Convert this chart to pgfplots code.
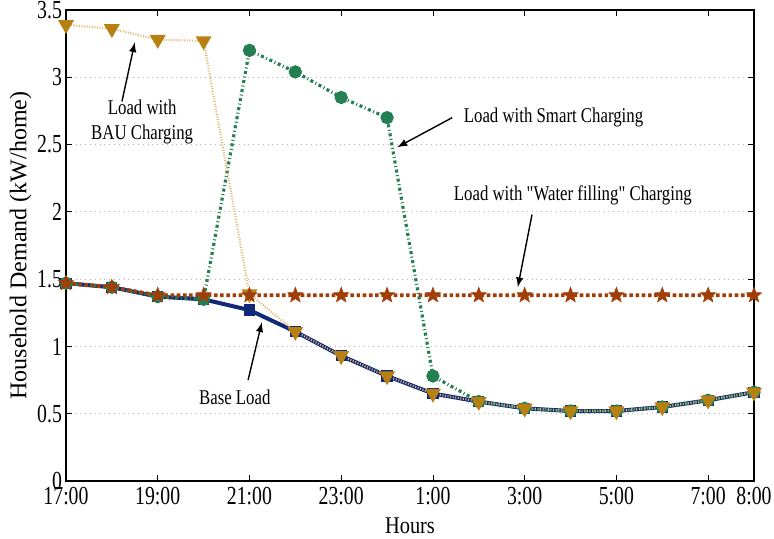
\documentclass[border=0pt]{standalone}
\usepackage{pgfplots}
\pgfplotsset{compat=1.18}
\usepackage{fontspec}
\setmainfont{Liberation Serif}
\newfontfamily\tickfont[FakeStretch=0.76]{Liberation Serif}
\newfontfamily\annfont[FakeStretch=0.8]{Liberation Serif}
\newfontfamily\xlabfont[FakeStretch=0.85]{Liberation Serif}
\definecolor{basec}{RGB}{15,40,120}
\definecolor{smartc}{RGB}{36,128,82}
\definecolor{bauc}{RGB}{184,128,16}
\definecolor{bauline}{RGB}{222,184,115}
\definecolor{waterc}{RGB}{160,62,10}
\pgfdeclareplotmark{fstar}{%
  \pgfpathmoveto{\pgfpointpolar{90}{\pgfplotmarksize}}%
  \pgfpathlineto{\pgfpointpolar{126}{0.42\pgfplotmarksize}}%
  \pgfpathlineto{\pgfpointpolar{162}{\pgfplotmarksize}}%
  \pgfpathlineto{\pgfpointpolar{198}{0.42\pgfplotmarksize}}%
  \pgfpathlineto{\pgfpointpolar{234}{\pgfplotmarksize}}%
  \pgfpathlineto{\pgfpointpolar{270}{0.42\pgfplotmarksize}}%
  \pgfpathlineto{\pgfpointpolar{306}{\pgfplotmarksize}}%
  \pgfpathlineto{\pgfpointpolar{342}{0.42\pgfplotmarksize}}%
  \pgfpathlineto{\pgfpointpolar{18}{\pgfplotmarksize}}%
  \pgfpathlineto{\pgfpointpolar{54}{0.42\pgfplotmarksize}}%
  \pgfpathclose
  \pgfusepathqfillstroke
}
\begin{document}
\begin{tikzpicture}
\begin{axis}[
  scale only axis,
  width=344pt, height=235.5pt,
  xmin=0, xmax=15, ymin=0, ymax=3.5,
  xtick={0,2,4,6,8,10,12,14,15},
  xticklabels={17:00,19:00,21:00,23:00,1:00,3:00,5:00,7:00,8:00},
  ytick={0,0.5,1,1.5,2,2.5,3,3.5},
  yticklabels={0,0.5,1,1.5,2,2.5,3,3.5},
  ymajorgrids,
  grid style={gray!60, dotted, line width=0.6pt},
  tick align=inside,
  major tick length=3pt,
  tick style={black, line width=0.4pt},
  axis line style={black, line width=0.6pt},
  ticklabel style={font=\tickfont\fontsize{13}{14}\selectfont},
  xticklabel style={yshift=0.5pt},
  yticklabel style={xshift=1.5pt},
  xlabel={Hours},
  ylabel={Household Demand (kW/home)},
  xlabel style={font=\xlabfont\fontsize{12}{13}\selectfont, yshift=0.5pt},
  ylabel style={font=\fontsize{12}{13}\selectfont, yshift=-4pt},
  clip=false,
]
% Base load
\addplot[basec, line width=2pt, mark=square*, mark size=1.8pt, mark options={solid}] coordinates {
(0,1.47)(1,1.44)(2,1.37)(3,1.35)(4,1.27)(5,1.11)(6,0.93)(7,0.78)(8,0.65)(9,0.59)(10,0.54)(11,0.52)(12,0.52)(13,0.55)(14,0.60)(15,0.66)};
% Smart charging
\addplot[smartc, line width=1.6pt, dash pattern=on 1.5pt off 1.3pt on 0.5pt off 1.3pt, mark=*, mark size=2.5pt, mark options={solid}] coordinates {
(0,1.47)(1,1.44)(2,1.37)(3,1.35)(4,3.20)(5,3.04)(6,2.85)(7,2.70)(8,0.78)(9,0.59)(10,0.54)(11,0.52)(12,0.52)(13,0.55)(14,0.60)(15,0.66)};
% BAU charging
\addplot[bauline, line width=1.1pt, dash pattern=on 0.5pt off 0.8pt, mark=triangle*, mark size=3.5pt, mark options={solid, rotate=180, fill=bauc, draw=bauc}] coordinates {
(0,3.39)(1,3.36)(2,3.28)(3,3.27)(4,1.39)(5,1.11)(6,0.93)(7,0.78)(8,0.65)(9,0.59)(10,0.54)(11,0.52)(12,0.52)(13,0.55)(14,0.60)(15,0.66)};
% Water filling
\addplot[waterc, line width=1.9pt, dash pattern=on 1.8pt off 1.3pt, mark=fstar, mark size=4pt, mark options={solid, fill=waterc, line width=0.3pt}] coordinates {
(0,1.47)(1,1.44)(2,1.38)(3,1.38)(4,1.38)(5,1.38)(6,1.38)(7,1.38)(8,1.38)(9,1.38)(10,1.38)(11,1.38)(12,1.38)(13,1.38)(14,1.38)(15,1.38)};
% Annotations
\node[align=center, font=\annfont\fontsize{10.5}{12.5}\selectfont] at (axis cs:1.66,2.67) {Load with\\BAU Charging};
\draw[-latex, line width=0.7pt] (axis cs:1.22,2.82) -- (axis cs:1.50,3.26);
\node[font=\annfont\fontsize{10.5}{12}\selectfont] at (axis cs:3.68,0.62) {Base Load};
\draw[-latex, line width=0.7pt] (axis cs:3.97,0.75) -- (axis cs:4.27,1.18);
\node[anchor=west, font=\annfont\fontsize{10.5}{12}\selectfont] at (axis cs:8.52,2.70) {Load with Smart Charging};
\draw[-latex, line width=0.7pt] (axis cs:8.42,2.70) -- (axis cs:7.22,2.48);
\node[font=\annfont\fontsize{10.5}{12}\selectfont] at (axis cs:11.05,2.12) {Load with \symbol{34}Water filling\symbol{34} Charging};
\draw[-latex, line width=0.7pt] (axis cs:10.16,1.98) -- (axis cs:9.85,1.44);
\end{axis}
\pgfresetboundingbox
\path ([shift={(-33pt,-29pt)}]current axis.south west) rectangle ([shift={(10pt,5pt)}]current axis.north east);
\end{tikzpicture}
\end{document}
